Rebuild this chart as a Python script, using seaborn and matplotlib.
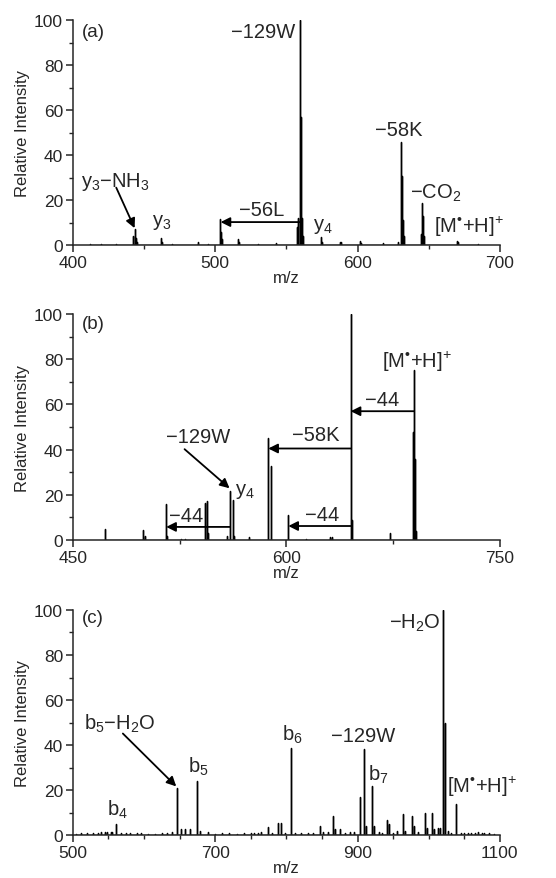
"""MS/MS spectra, three panels (a)-(c), stick style."""

import matplotlib
matplotlib.use("Agg")
import matplotlib.pyplot as plt
import pandas as pd
import seaborn as sns
from matplotlib.ticker import MultipleLocator

# ---- data (m/z, relative intensity) ----
mz_a = [412, 420, 430, 442.6, 443.4, 444.3, 445, 461.6, 462.3, 470, 488, 495,
        503.2, 503.6, 504.3, 505, 516, 516.8, 530, 543, 557.5, 558.3, 559.4,
        560.5, 561.3, 562, 574.6, 575.4, 587.5, 588.3, 601.5, 602.3, 618,
        628.5, 630.4, 631.5, 632.3, 633, 644.6, 645.2, 646.2, 647, 670, 670.8, 685]
int_a = [0.5, 0.4, 0.5, 4, 7.0, 3, 1.5, 3.3, 1.5, 0.5, 1.5, 0.4,
         8, 11.4, 6, 2.5, 2.5, 1.2, 0.5, 1.0, 8, 12, 100,
         57, 12, 4, 3.7, 1.5, 1.5, 1.2, 2.0, 1.0, 1.0,
         1.5, 45.8, 30.7, 11, 4, 5, 18.8, 13, 4, 2.0, 1.2, 0.4]

mz_b = [472.5, 499.6, 500.8, 515.6, 516.4, 526, 529, 543, 544.4, 545.3, 558,
        560.4, 562.5, 563.3, 573.7, 587.3, 589.4, 601.4, 614, 631, 632,
        645.2, 645.8, 672.6, 689.0, 689.7, 690.5, 691.2]
int_b = [4.7, 4.4, 2.0, 15.8, 2.0, 0.6, 0.6, 16.5, 17.3, 3.0, 2.0,
         21.7, 17.6, 2.0, 1.5, 45, 32.8, 11.2, 0.6, 1.5, 1.2,
         100, 9, 3.2, 48, 75.2, 35.7, 4]

mz_c = [505, 512, 520, 528, 535, 540, 545, 548, 553, 555, 561, 568, 575, 580,
        590, 596, 605, 615, 625, 632, 640, 646.7, 652, 658, 664, 674.8, 678,
        690, 700, 710, 720, 730, 740, 750, 755, 760, 765, 774, 780, 788, 792,
        798, 806, 812, 820, 830, 838, 847, 852, 858, 865, 868, 875, 882, 890,
        895, 903, 909.3, 912, 920.5, 923, 930, 935, 942, 944, 950, 955, 964,
        967, 977, 980, 985, 994.5, 997, 1004, 1008, 1013, 1016, 1020.8, 1023,
        1027, 1032, 1039, 1045, 1050, 1055, 1060, 1065, 1070, 1075, 1078,
        1085, 1092]
int_c = [0.6, 0.8, 0.7, 1.0, 0.8, 1.2, 1.5, 1.3, 1.5, 1.5, 4.9, 1.0, 1.0, 0.9,
         1.0, 0.7, 0.6, 0.6, 0.8, 1.0, 1.5, 20.7, 2.5, 2.5, 2.8, 24.1, 2.0,
         1.5, 0.6, 0.8, 0.7, 0.6, 0.8, 1.0, 1.1, 1.0, 1.2, 3.5, 1.0, 5.5, 5.5,
         1.0, 38.5, 1.0, 0.8, 1.0, 1.0, 4.0, 1.5, 1.5, 8.5, 2.5, 2.5, 1.0, 1.5,
         1.2, 17, 38.2, 4, 21.9, 4, 1.5, 1.0, 6.5, 5, 1.0, 2.0, 9.3,
         2.0, 8.5, 4, 1.5, 10, 3, 10, 2.5, 3, 3, 100, 50,
         2.0, 1.0, 13.8, 1.0, 0.8, 0.9, 0.8, 1.1, 1.5, 1.0, 0.9,
         0.7, 0.6]

MH = "[M$^{\u2022}$+H]$^{+}$"
M = "\u2212"  # the labels use a wide minus, not a hyphen


def sticks(mz, inten):
    # each peak as a 0 -> h -> 0 trace so lineplot draws vertical sticks
    rows = []
    for m, h in zip(mz, inten):
        rows += [(m, 0.0), (m, h), (m, 0.0)]
    return pd.DataFrame(rows, columns=["mz", "intensity"])


def arrow(ax, start, end):
    ax.annotate("", xy=end, xytext=start,
                arrowprops=dict(arrowstyle="-|>", color="black", lw=1.3,
                                mutation_scale=14, shrinkA=0, shrinkB=0))


sns.set_style("ticks")
plt.rcParams["font.family"] = ["Liberation Sans", "DejaVu Sans"]
plt.rcParams["mathtext.fontset"] = "custom"
plt.rcParams["mathtext.rm"] = "Liberation Sans"
plt.rcParams["mathtext.it"] = "Liberation Sans"
plt.rcParams["mathtext.default"] = "regular"

fig = plt.figure(figsize=(5.56, 8.79), dpi=100)
boxes = [(0.131, 0.7201, 0.768, 0.256),
         (0.131, 0.3845, 0.768, 0.2571),
         (0.131, 0.0489, 0.768, 0.256)]
panels = [
    (mz_a, int_a, (400, 700), MultipleLocator(100), 50),
    (mz_b, int_b, (450, 750), MultipleLocator(150), 75),
    (mz_c, int_c, (500, 1100), MultipleLocator(200, offset=100), 50),
]
axes = []
for box, (mz, inten, xlim, major, minor) in zip(boxes, panels):
    ax = fig.add_axes(box)
    sns.lineplot(data=sticks(mz, inten), x="mz", y="intensity", sort=False,
                 estimator=None, color="black", lw=1.0, ax=ax)
    ax.set_xlim(*xlim)
    ax.set_ylim(0, 100)
    ax.xaxis.set_major_locator(major)
    ax.xaxis.set_minor_locator(MultipleLocator(minor))
    ax.yaxis.set_major_locator(MultipleLocator(20))
    ax.yaxis.set_minor_locator(MultipleLocator(10))
    ax.tick_params(which="major", length=5, width=1.1, labelsize=12.5, pad=2)
    ax.tick_params(which="minor", length=3, width=1.0)
    for s in ("left", "bottom"):
        ax.spines[s].set_linewidth(1.1)
    sns.despine(ax=ax)
    ax.set_xlabel("m/z", fontsize=12, labelpad=0)
    ax.set_ylabel("Relative Intensity", fontsize=12, labelpad=3)
    axes.append(ax)

fs = 14.5
ax_a, ax_b, ax_c = axes

# (a)
ax_a.text(414.5, 95, "(a)", fontsize=13.5, ha="center", va="center")
ax_a.text(556.5, 95, M + "129W", fontsize=fs, ha="right", va="center")
ax_a.text(629, 51.5, M + "58K", fontsize=fs, ha="center", va="center")
ax_a.text(655, 23.5, M + "CO$_2$", fontsize=fs, ha="center", va="center")
ax_a.text(678, 8.5, MH, fontsize=fs, ha="center", va="center")
ax_a.text(575.5, 8.5, "y$_4$", fontsize=fs, ha="center", va="center")
ax_a.text(532.4, 15.6, M + "56L", fontsize=fs, ha="center", va="center")
ax_a.text(462.6, 10.5, "y$_3$", fontsize=fs, ha="center", va="center")
ax_a.text(430, 28.5, "y$_3$" + M + "NH$_3$", fontsize=fs, ha="center", va="center")
arrow(ax_a, (430.5, 25.5), (443.4, 7.5))
arrow(ax_a, (559.4, 10.2), (503.8, 10.2))

# (b)
ax_b.text(464.5, 96, "(b)", fontsize=13.5, ha="center", va="center")
ax_b.text(691.4, 79.3, MH, fontsize=fs, ha="center", va="center")
ax_b.text(667.5, 62.3, M + "44", fontsize=fs, ha="center", va="center")
arrow(ax_b, (689.7, 57), (645.2, 57))
ax_b.text(621, 46.5, M + "58K", fontsize=fs, ha="center", va="center")
arrow(ax_b, (645.2, 40.5), (587.3, 40.5))
ax_b.text(624.8, 11.4, M + "44", fontsize=fs, ha="center", va="center")
arrow(ax_b, (645.2, 6.2), (601.4, 6.2))
ax_b.text(529.7, 10.9, M + "44", fontsize=fs, ha="center", va="center")
arrow(ax_b, (560.4, 5.8), (515.6, 5.8))
ax_b.text(537.9, 46, M + "129W", fontsize=fs, ha="center", va="center")
arrow(ax_b, (528.5, 40.2), (560.1, 22.9))
ax_b.text(571, 22, "y$_4$", fontsize=fs, ha="center", va="center")

# (c)
ax_c.text(528, 96.6, "(c)", fontsize=13.5, ha="center", va="center")
ax_c.text(980.4, 94.7, M + "H$_2$O", fontsize=fs, ha="center", va="center")
ax_c.text(565.6, 50, "b$_5$" + M + "H$_2$O", fontsize=fs, ha="center", va="center")
arrow(ax_c, (570.3, 45.1), (645.3, 21.6))
ax_c.text(677, 30.8, "b$_5$", fontsize=fs, ha="center", va="center")
ax_c.text(808.5, 44.8, "b$_6$", fontsize=fs, ha="center", va="center")
ax_c.text(907.9, 44.4, M + "129W", fontsize=fs, ha="center", va="center")
ax_c.text(929, 27, "b$_7$", fontsize=fs, ha="center", va="center")
ax_c.text(563.3, 11.5, "b$_4$", fontsize=fs, ha="center", va="center")
ax_c.text(1026, 22, MH, fontsize=fs, ha="left", va="center", clip_on=False)

fig.savefig("out.png", dpi=100)
